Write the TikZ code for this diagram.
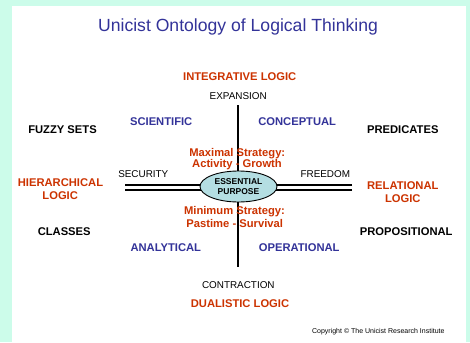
\documentclass[tikz,border=0pt]{standalone}
\usepackage{fontspec}
\setmainfont{Liberation Sans}
\usetikzlibrary{shapes.geometric}
\definecolor{mint}{RGB}{204,252,234}
\definecolor{titleblue}{RGB}{51,51,153}
\definecolor{logicred}{RGB}{204,51,0}
\definecolor{ellfill}{RGB}{180,222,226}
\tikzset{
  lab/.style={inner sep=0pt, anchor=base, align=center},
  bigbold/.style={lab, font=\bfseries\fontsize{11.2}{13.4}\selectfont},
  redlab/.style={bigbold, text=logicred},
  bluelab/.style={bigbold, text=titleblue},
  blacklab/.style={bigbold, text=black},
  axislab/.style={lab, font=\fontsize{9.9}{12}\selectfont},
  axisline/.style={line width=2pt, black},
}
\begin{document}
\begin{tikzpicture}[x=1pt,y=-1pt]
\useasboundingbox (0,0) rectangle (470,342);
\fill[mint] (0,0) rectangle (470,342);
\fill[white] (12,6) rectangle (466,342);

\node[lab, font=\fontsize{17.6}{20}\selectfont, text=titleblue] (title) at (238,32) {Unicist Ontology of Logical Thinking};

\node[redlab] (integ) at (239.7,80.7) {INTEGRATIVE LOGIC};
\node[axislab] (exp) at (238.2,99.3) {EXPANSION};
\node[bluelab] (sci) at (161.2,125.7) {SCIENTIFIC};
\node[bluelab] (conc) at (297.2,125.7) {CONCEPTUAL};
\node[blacklab] (fuzzy) at (62.5,133.3) {FUZZY SETS};
\node[blacklab] (pred) at (402.8,133.3) {PREDICATES};
\node[axislab] (sec) at (143.3,177.7) {SECURITY};
\node[axislab] (free) at (325.3,177.7) {FREEDOM};
\node[redlab] (hier1) at (60.5,186.7) {HIERARCHICAL};
\node[redlab] (hier2) at (60.2,199) {LOGIC};
\node[redlab] (rel1) at (402.8,189.3) {RELATIONAL};
\node[redlab] (rel2) at (402.8,202.7) {LOGIC};
\node[blacklab] (cls) at (64.2,235) {CLASSES};
\node[blacklab] (prop) at (406.2,235) {PROPOSITIONAL};
\node[bluelab] (ana) at (165.8,251) {ANALYTICAL};
\node[bluelab] (oper) at (299.2,251) {OPERATIONAL};
\node[axislab] (contr) at (238.3,288.3) {CONTRACTION};
\node[redlab] (dual) at (240,307.3) {DUALISTIC LOGIC};
\node[lab, font=\fontsize{7}{8}\selectfont] (copy) at (378.3,333) {Copyright \textcopyright{} The Unicist Research Institute};

\coordinate (c) at (238.5,186.5);
\coordinate (vtop) at (238.3,105);
\coordinate (vbot) at (238.3,267);
\coordinate (l1) at (125,185.3);
\coordinate (l2) at (125,190);
\coordinate (r1) at (352,184.6);
\coordinate (r2) at (352,189.5);

\draw[axisline] (vtop) -- (vbot);
\draw[axisline, line width=1.7pt] (l1) -- (l1 -| c);
\draw[axisline] (l2) -- (l2 -| c);
\draw[axisline] (r1) -- (r1 -| c);
\draw[axisline] (r2) -- (r2 -| c);

\node[redlab] (max1) at (237.3,156) {Maximal Strategy:};
\node[redlab] (max2) at (237,167.5) {Activity - Growth};
\node[redlab] (min1) at (234.5,214.3) {Minimum Strategy:};
\node[redlab] (min2) at (234.7,227.3) {Pastime - Survival};

\node[ellipse, draw=black, line width=0.9pt, fill=ellfill, minimum width=77pt, minimum height=31pt, inner sep=0pt,
      font=\bfseries\fontsize{8.5}{10}\selectfont, align=center] (ess) at (c) {ESSENTIAL\\[-0.5pt]PURPOSE};
\end{tikzpicture}
\end{document}
